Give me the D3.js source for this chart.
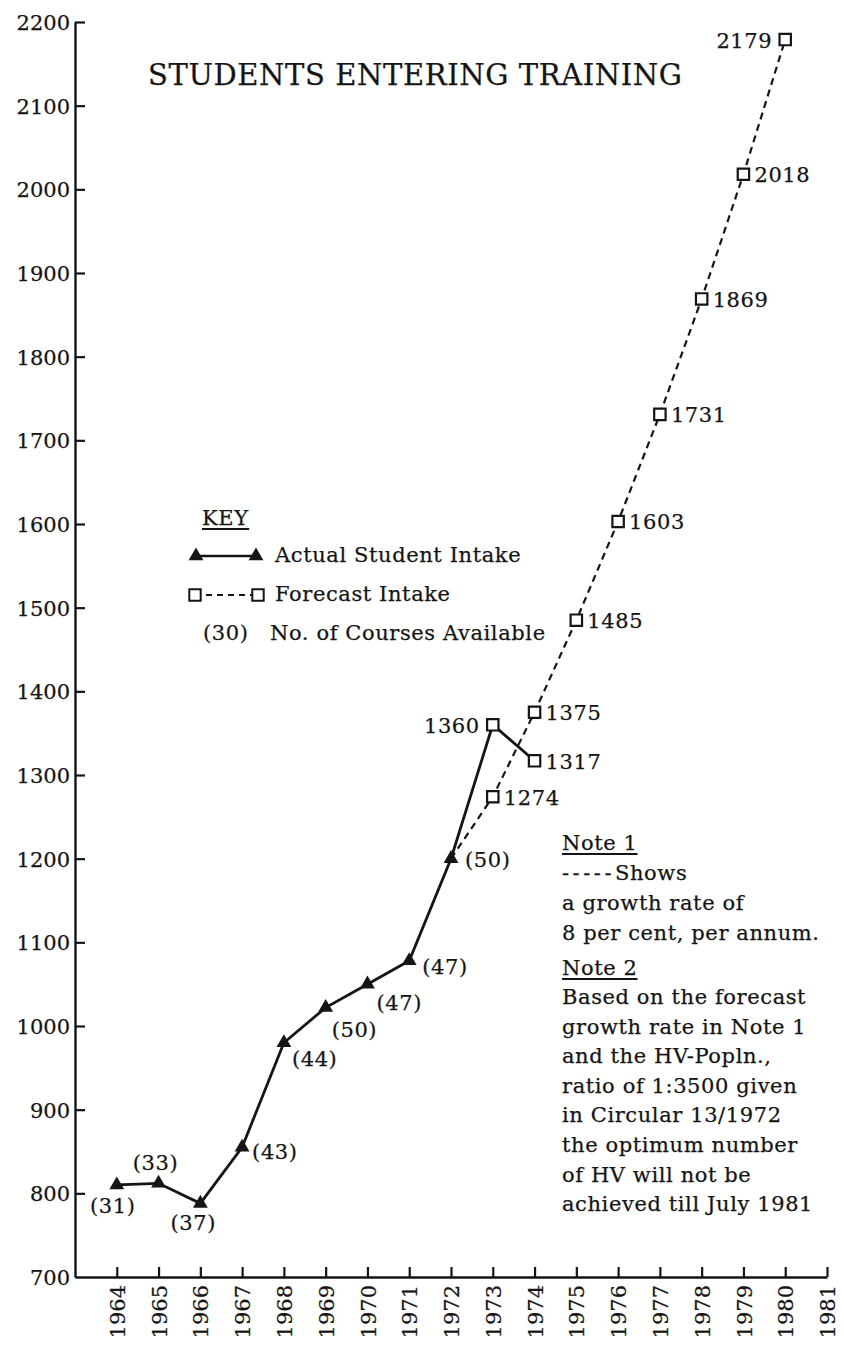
<!DOCTYPE html>
<html>
<head>
<meta charset="utf-8">
<script src="https://cdn.jsdelivr.net/npm/d3@7/dist/d3.min.js"></script>
<style>
  body { margin: 0; background: #fff; }
  text { font-family: "DejaVu Serif", serif; fill: #151515; stroke: #151515; stroke-width: 0.25px; }
  .body-text { letter-spacing: 0.6px; }
</style>
</head>
<body>
<div id="chart"></div>
<script>
// actual student intake (triangles) and courses available
var actualYears = [1964, 1965, 1966, 1967, 1968, 1969, 1970, 1971, 1972];
var actualValues = [810, 812, 788, 855, 980, 1022, 1050, 1078, 1200];
var coursesAvailable = [31, 33, 37, 43, 44, 50, 47, 47, 50];

// actual intake after 1972 (squares on the solid line)
var lateYears = [1973, 1974];
var lateValues = [1360, 1317];

// forecast intake, 8 per cent per annum
var forecastYears = [1973, 1974, 1975, 1976, 1977, 1978, 1979, 1980];
var forecastValues = [1274, 1375, 1485, 1603, 1731, 1869, 2018, 2179];

// axis ticks
var yearTicks = [1964, 1965, 1966, 1967, 1968, 1969, 1970, 1971, 1972,
                 1973, 1974, 1975, 1976, 1977, 1978, 1979, 1980, 1981];
var valueTicks = [700, 800, 900, 1000, 1100, 1200, 1300, 1400, 1500,
                  1600, 1700, 1800, 1900, 2000, 2100, 2200];

var noteLines = ["a growth rate of", "8 per cent, per annum."];
var note2Lines = ["Based on the forecast", "growth rate in Note 1", "and the HV-Popln.,",
                  "ratio of 1:3500 given", "in Circular 13/1972", "the optimum number",
                  "of HV will not be", "achieved till July 1981"];

// where each "(n)" label sits relative to its triangle
var courseLabelPos = [[-4, 28, "middle"], [-3, -13, "middle"], [-7, 27, "middle"],
                      [10, 12, "start"], [8, 23, "start"], [6, 29, "start"],
                      [9, 26, "start"], [13, 13, "start"], [14, 8, "start"]];

var width = 844, height = 1353;

var svg = d3.select("#chart")
  .append("svg")
    .attr("width", width)
    .attr("height", height);

svg.append("rect").attr("width", width).attr("height", height).attr("fill", "#fff");

var x = d3.scaleLinear().domain([1963, 1981]).range([75, 827]);
var y = d3.scaleLinear().domain([700, 2200]).range([1277, 22]);

// Y axis, ticks pointing inwards
var yAxis = svg.append("g")
  .attr("transform", "translate(75,0)")
  .call(d3.axisLeft(y).tickValues(valueTicks).tickSize(-10).tickSizeOuter(0)
          .tickPadding(5).tickFormat(d3.format("d")));
yAxis.selectAll("text").style("font-size", "21px").attr("dy", "0.36em");

// X axis, ticks pointing up, labels rotated
var xAxis = svg.append("g")
  .attr("transform", "translate(0,1277)")
  .call(d3.axisBottom(x).tickValues(yearTicks).tickSize(-10).tickSizeOuter(0)
          .tickFormat(d3.format("d")));
xAxis.selectAll("text")
  .style("font-size", "21px")
  .attr("transform", "rotate(-90)")
  .attr("text-anchor", "end")
  .attr("x", -8)
  .attr("y", 0)
  .attr("dy", "0.36em");

svg.selectAll(".domain").attr("stroke", "#151515").attr("stroke-width", 2.4);
svg.selectAll(".tick line").attr("stroke", "#151515").attr("stroke-width", 2.2);
svg.selectAll(".tick").filter(function(d) { return d === 700; }).select("line").remove();

// build point lists
var actual = actualYears.map(function(d, i) {
  return {year: d, value: actualValues[i], courses: coursesAvailable[i]};
});
var late = lateYears.map(function(d, i) { return {year: d, value: lateValues[i]}; });
var forecast = forecastYears.map(function(d, i) { return {year: d, value: forecastValues[i]}; });

var line = d3.line()
  .x(function(d) { return x(d.year); })
  .y(function(d) { return y(d.value); });

// dashed forecast, starting from the last actual triangle
svg.append("path")
  .datum([actual[actual.length - 1]].concat(forecast))
  .attr("d", line)
  .attr("fill", "none")
  .attr("stroke", "#151515")
  .attr("stroke-width", 2.2)
  .attr("stroke-dasharray", "7,5");

// solid actual line
svg.append("path")
  .datum(actual.concat(late))
  .attr("d", line)
  .attr("fill", "none")
  .attr("stroke", "#151515")
  .attr("stroke-width", 2.8);

var tri = d3.symbol().type(d3.symbolTriangle).size(95);
var sq = d3.symbol().type(d3.symbolSquare).size(130);

svg.selectAll(".tri")
  .data(actual)
  .enter().append("path")
    .attr("class", "tri")
    .attr("d", tri)
    .attr("transform", function(d) { return "translate(" + x(d.year) + "," + y(d.value) + ")"; })
    .attr("fill", "#151515");

svg.selectAll(".sq")
  .data(forecast.concat(late))
  .enter().append("path")
    .attr("class", "sq")
    .attr("d", sq)
    .attr("transform", function(d) { return "translate(" + x(d.year) + "," + y(d.value) + ")"; })
    .attr("fill", "#fff")
    .attr("stroke", "#151515")
    .attr("stroke-width", 2.2);

// "(n)" courses labels
svg.selectAll(".courses")
  .data(actual)
  .enter().append("text")
    .attr("class", "courses body-text")
    .attr("x", function(d, i) { return x(d.year) + courseLabelPos[i][0]; })
    .attr("y", function(d, i) { return y(d.value) + courseLabelPos[i][1]; })
    .attr("text-anchor", function(d, i) { return courseLabelPos[i][2]; })
    .style("font-size", "21px")
    .text(function(d) { return "(" + d.courses + ")"; });

// value labels beside squares
svg.selectAll(".vals")
  .data(forecast.concat(late))
  .enter().append("text")
    .attr("class", "vals body-text")
    .attr("x", function(d) {
      var left = d.value === 1360 || d.value === 2179;
      return x(d.year) + (left ? -13 : 11);
    })
    .attr("y", function(d) { return y(d.value) + 8; })
    .attr("text-anchor", function(d) {
      return (d.value === 1360 || d.value === 2179) ? "end" : "start";
    })
    .style("font-size", "21px")
    .text(function(d) { return d.value; });

// title
svg.append("text")
  .attr("class", "body-text")
  .attr("x", 148)
  .attr("y", 85)
  .style("font-size", "29px")
  .text("STUDENTS ENTERING TRAINING");

// underline helper
function underline(t) {
  var bb = t.node().getBBox();
  svg.append("line")
    .attr("x1", bb.x).attr("x2", bb.x + bb.width)
    .attr("y1", +t.attr("y") + 4).attr("y2", +t.attr("y") + 4)
    .attr("stroke", "#151515").attr("stroke-width", 1.8);
}

function label(px, py, s) {
  return svg.append("text").attr("class", "body-text")
    .attr("x", px).attr("y", py).style("font-size", "21px").text(s);
}

// key
underline(label(202, 525, "KEY"));

svg.append("line").attr("x1", 196).attr("x2", 256).attr("y1", 556).attr("y2", 556)
  .attr("stroke", "#151515").attr("stroke-width", 2.5);
[196, 256].forEach(function(px) {
  svg.append("path").attr("d", tri).attr("transform", "translate(" + px + ",556)").attr("fill", "#151515");
});
label(275, 562, "Actual Student Intake");

svg.append("line").attr("x1", 195).attr("x2", 258).attr("y1", 595).attr("y2", 595)
  .attr("stroke", "#151515").attr("stroke-width", 2).attr("stroke-dasharray", "6,5");
[195, 258].forEach(function(px) {
  svg.append("path").attr("d", sq).attr("transform", "translate(" + px + ",595)")
    .attr("fill", "#fff").attr("stroke", "#151515").attr("stroke-width", 2);
});
label(275, 601, "Forecast Intake");

label(203, 640, "(30)");
label(270, 640, "No. of Courses Available");

// notes
underline(label(562, 850, "Note 1"));
var shows = label(562, 880, "");
shows.append("tspan").style("letter-spacing", "3.5px").text("-----");
shows.append("tspan").text("Shows");
noteLines.forEach(function(s, i) { label(562, 910 + i * 29.5, s); });

underline(label(562, 975, "Note 2"));
note2Lines.forEach(function(s, i) { label(562, 1004 + i * 29.6, s); });
</script>
</body>
</html>
